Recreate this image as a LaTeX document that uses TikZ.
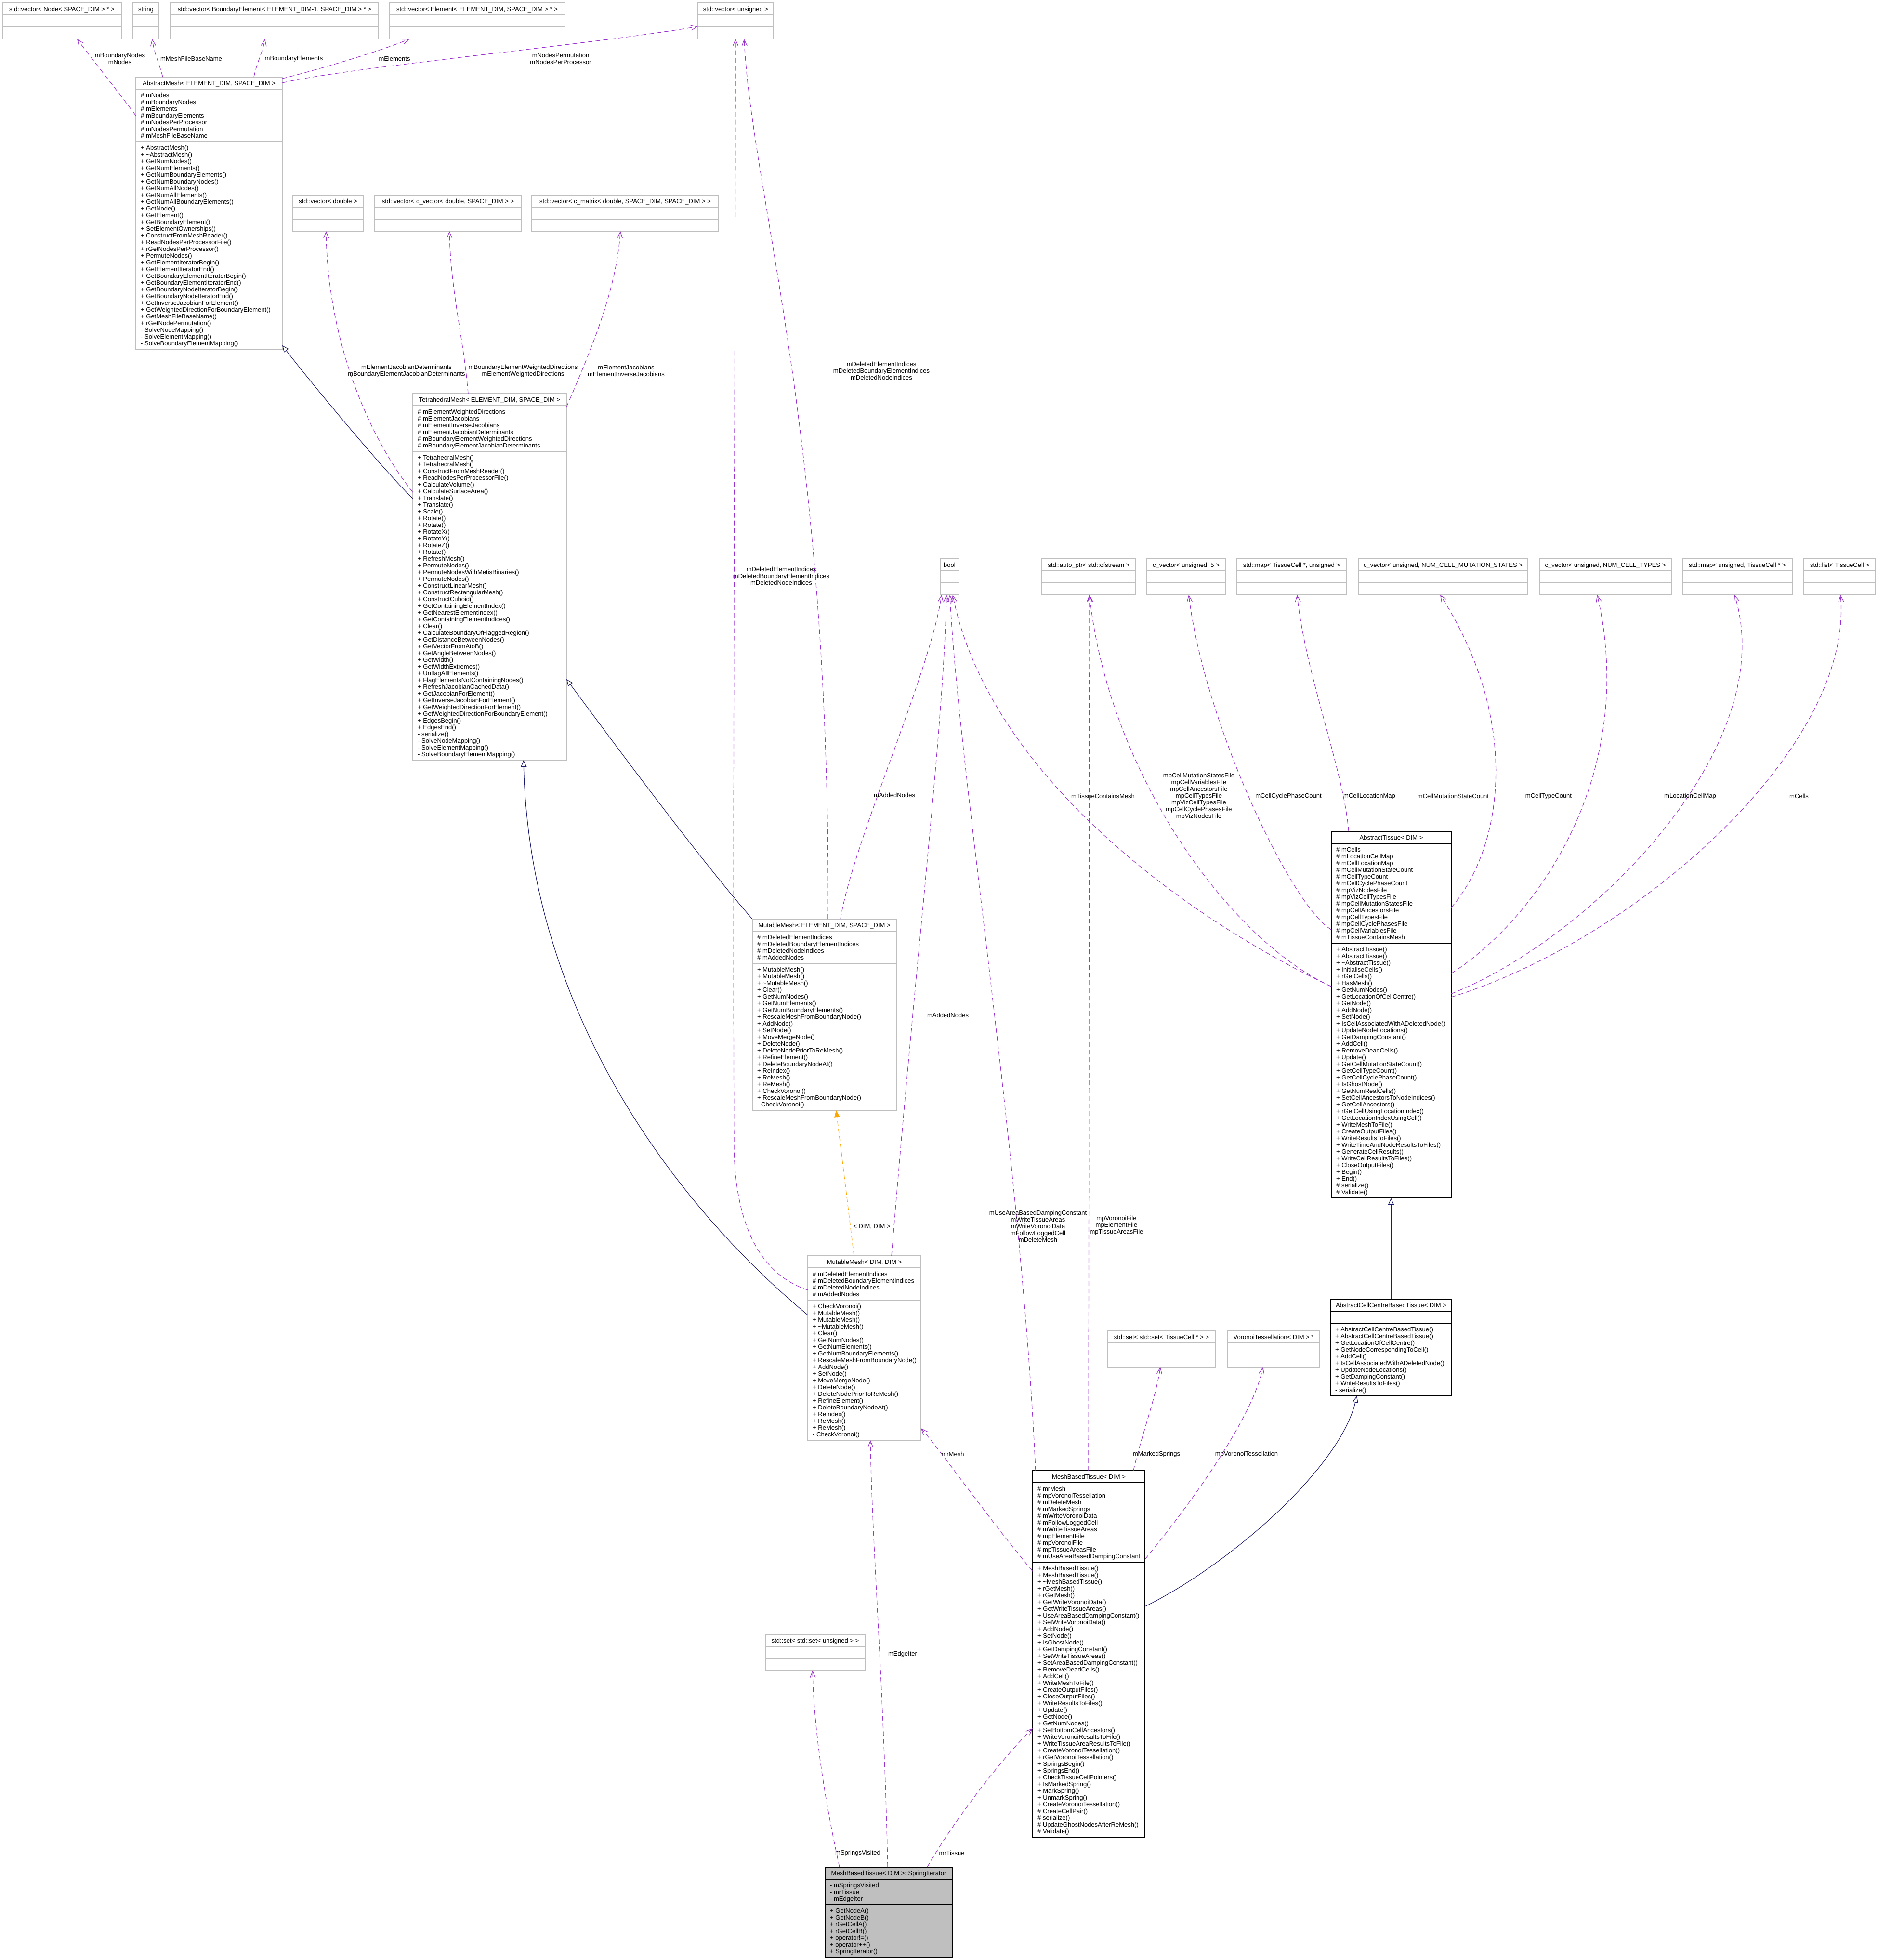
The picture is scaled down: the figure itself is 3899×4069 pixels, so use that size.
\documentclass[tikz,border=0pt]{standalone}
\usepackage{fontspec}
\setmainfont{Liberation Sans}
\usetikzlibrary{arrows.meta}
\definecolor{usecol}{HTML}{9A32CD}
\definecolor{inhcol}{HTML}{191970}
\definecolor{tplcol}{HTML}{FFA500}
\definecolor{grayborder}{HTML}{BFBFBF}
\definecolor{sifill}{HTML}{BFBFBF}
\tikzset{
  gbox/.style={draw=grayborder, fill=white, line width=1.5pt},
  gboxsep/.style={draw=grayborder, line width=1.5pt},
  bbox/.style={draw=black, fill=white, line width=1.5pt},
  bboxsep/.style={draw=black, line width=1.5pt},
  sbox/.style={draw=black, fill=sifill, line width=1.5pt},
  sboxsep/.style={draw=black, line width=1.5pt},
  use/.style={draw=usecol, line width=1.2pt, dash pattern=on 10pt off 6pt,
    -{Straight Barb[length=13pt,width=11pt,line width=1.2pt]}},
  inh/.style={draw=inhcol, line width=1.2pt,
    -{Triangle[open,length=14pt,width=12pt,fill=white,line width=1.2pt]}},
  tpl/.style={draw=tplcol, line width=1.2pt, dash pattern=on 10pt off 6pt,
    -{Triangle[length=14pt,width=11pt]}},
  lbl/.style={align=center},
}
\newcommand\umlbox[8]{%
  \pgfmathsetmacro\ubA{ifthenelse(#5==0,25,#5*14+11)}%
  \pgfmathsetmacro\ubM{ifthenelse(#6==0,25,#6*14+11)}%
  \pgfmathsetmacro\ubH{25+\ubA+\ubM}%
  \pgfmathsetmacro\ubYh{#3+25}%
  \pgfmathsetmacro\ubYa{#3+25+\ubA}%
  \pgfmathsetmacro\ubXr{#2+#4}%
  \pgfmathsetmacro\ubXc{#2+#4/2}%
  \pgfmathsetmacro\ubXt{#2+10}%
  \node[#7, anchor=north west, minimum width=#4pt, minimum height=\ubH pt, inner sep=0pt, outer sep=0pt] (#1) at (#2,#3) {};
  \draw[#7sep] (#2,\ubYh) -- (\ubXr,\ubYh) (#2,\ubYa) -- (\ubXr,\ubYa);
  \node[anchor=base] (#1-t) at (\ubXc,#3+17) {#8};
  \coordinate (#1-a) at (\ubXt,\ubYh+17);
  \coordinate (#1-m) at (\ubXt,\ubYa+17);
}
\newcommand\umllines[3]{%
  \foreach \ulT [count=\ulI from 0] in {#3}{\node[anchor=base west] (#1-#2\ulI) at ([yshift=-\ulI*14pt]#1-#2) {\ulT};}%
}
\begin{document}
\begin{tikzpicture}[x=1pt,y=-1pt, every node/.style={font=\fontsize{13}{14}\selectfont, inner sep=0pt}]
\fill[white] (0,0) rectangle (3899,4069);
\useasboundingbox (0,0) rectangle (3899,4069);

% ---------- top row ----------
\umlbox{B1}{5}{6}{247}{0}{0}{gbox}{std::vector< Node< SPACE\_DIM > * >}
\umlbox{B2}{276}{6}{54}{0}{0}{gbox}{string}
\umlbox{B3}{354}{6}{432}{0}{0}{gbox}{std::vector< BoundaryElement< ELEMENT\_DIM-1, SPACE\_DIM > * >}
\umlbox{B4}{808}{6}{365}{0}{0}{gbox}{std::vector< Element< ELEMENT\_DIM, SPACE\_DIM > * >}
\umlbox{B5}{1449}{6}{157}{0}{0}{gbox}{std::vector< unsigned >}

% ---------- AbstractMesh ----------
\umlbox{AM}{282}{160}{304}{7}{30}{gbox}{AbstractMesh< ELEMENT\_DIM, SPACE\_DIM >}
\umllines{AM}{a}{\# mNodes, \# mBoundaryNodes, \# mElements, \# mBoundaryElements, \# mNodesPerProcessor, \# mNodesPermutation, \# mMeshFileBaseName}
\umllines{AM}{m}{+ AbstractMesh(), + \textasciitilde AbstractMesh(), + GetNumNodes(), + GetNumElements(), + GetNumBoundaryElements(), + GetNumBoundaryNodes(), + GetNumAllNodes(), + GetNumAllElements(), + GetNumAllBoundaryElements(), + GetNode(), + GetElement(), + GetBoundaryElement(), + SetElementOwnerships(), + ConstructFromMeshReader(), + ReadNodesPerProcessorFile(), + rGetNodesPerProcessor(), + PermuteNodes(), + GetElementIteratorBegin(), + GetElementIteratorEnd(), + GetBoundaryElementIteratorBegin(), + GetBoundaryElementIteratorEnd(), + GetBoundaryNodeIteratorBegin(), + GetBoundaryNodeIteratorEnd(), + GetInverseJacobianForElement(), + GetWeightedDirectionForBoundaryElement(), + GetMeshFileBaseName(), + rGetNodePermutation(), - SolveNodeMapping(), - SolveElementMapping(), - SolveBoundaryElementMapping()}

% ---------- middle row ----------
\umlbox{V1}{608}{405}{146}{0}{0}{gbox}{std::vector< double >}
\umlbox{V2}{778}{405}{304}{0}{0}{gbox}{std::vector< c\_vector< double, SPACE\_DIM > >}
\umlbox{V3}{1104}{405}{388}{0}{0}{gbox}{std::vector< c\_matrix< double, SPACE\_DIM, SPACE\_DIM > >}

% ---------- TetrahedralMesh ----------
\umlbox{TM}{857}{817}{319}{6}{45}{gbox}{TetrahedralMesh< ELEMENT\_DIM, SPACE\_DIM >}
\umllines{TM}{a}{\# mElementWeightedDirections, \# mElementJacobians, \# mElementInverseJacobians, \# mElementJacobianDeterminants, \# mBoundaryElementWeightedDirections, \# mBoundaryElementJacobianDeterminants}
\umllines{TM}{m}{+ TetrahedralMesh(), + TetrahedralMesh(), + ConstructFromMeshReader(), + ReadNodesPerProcessorFile(), + CalculateVolume(), + CalculateSurfaceArea(), + Translate(), + Translate(), + Scale(), + Rotate(), + Rotate(), + RotateX(), + RotateY(), + RotateZ(), + Rotate(), + RefreshMesh(), + PermuteNodes(), + PermuteNodesWithMetisBinaries(), + PermuteNodes(), + ConstructLinearMesh(), + ConstructRectangularMesh(), + ConstructCuboid(), + GetContainingElementIndex(), + GetNearestElementIndex(), + GetContainingElementIndices(), + Clear(), + CalculateBoundaryOfFlaggedRegion(), + GetDistanceBetweenNodes(), + GetVectorFromAtoB(), + GetAngleBetweenNodes(), + GetWidth(), + GetWidthExtremes(), + UnflagAllElements(), + FlagElementsNotContainingNodes(), + RefreshJacobianCachedData(), + GetJacobianForElement(), + GetInverseJacobianForElement(), + GetWeightedDirectionForElement(), + GetWeightedDirectionForBoundaryElement(), + EdgesBegin(), + EdgesEnd(), - serialize(), - SolveNodeMapping(), - SolveElementMapping(), - SolveBoundaryElementMapping()}

% ---------- right row ----------
\umlbox{bool}{1952}{1160}{39}{0}{0}{gbox}{bool}
\umlbox{AP}{2163}{1160}{195}{0}{0}{gbox}{std::auto\_ptr< std::ofstream >}
\umlbox{CV5}{2381}{1160}{163}{0}{0}{gbox}{c\_vector< unsigned, 5 >}
\umlbox{MTU}{2568}{1160}{227}{0}{0}{gbox}{std::map< TissueCell *, unsigned >}
\umlbox{CVM}{2820}{1160}{352}{0}{0}{gbox}{c\_vector< unsigned, NUM\_CELL\_MUTATION\_STATES >}
\umlbox{CVT}{3196}{1160}{274}{0}{0}{gbox}{c\_vector< unsigned, NUM\_CELL\_TYPES >}
\umlbox{MUT}{3493}{1160}{228}{0}{0}{gbox}{std::map< unsigned, TissueCell * >}
\umlbox{LT}{3745}{1160}{149}{0}{0}{gbox}{std::list< TissueCell >}

% ---------- MutableMesh ----------
\umlbox{MM1}{1562}{1908}{299}{4}{21}{gbox}{MutableMesh< ELEMENT\_DIM, SPACE\_DIM >}
\umllines{MM1}{a}{\# mDeletedElementIndices, \# mDeletedBoundaryElementIndices, \# mDeletedNodeIndices, \# mAddedNodes}
\umllines{MM1}{m}{+ MutableMesh(), + MutableMesh(), + \textasciitilde MutableMesh(), + Clear(), + GetNumNodes(), + GetNumElements(), + GetNumBoundaryElements(), + RescaleMeshFromBoundaryNode(), + AddNode(), + SetNode(), + MoveMergeNode(), + DeleteNode(), + DeleteNodePriorToReMesh(), + RefineElement(), + DeleteBoundaryNodeAt(), + ReIndex(), + ReMesh(), + ReMesh(), + CheckVoronoi(), + RescaleMeshFromBoundaryNode(), - CheckVoronoi()}

\umlbox{MM2}{1677}{2607}{235}{4}{20}{gbox}{MutableMesh< DIM, DIM >}
\umllines{MM2}{a}{\# mDeletedElementIndices, \# mDeletedBoundaryElementIndices, \# mDeletedNodeIndices, \# mAddedNodes}
\umllines{MM2}{m}{+ CheckVoronoi(), + MutableMesh(), + MutableMesh(), + \textasciitilde MutableMesh(), + Clear(), + GetNumNodes(), + GetNumElements(), + GetNumBoundaryElements(), + RescaleMeshFromBoundaryNode(), + AddNode(), + SetNode(), + MoveMergeNode(), + DeleteNode(), + DeleteNodePriorToReMesh(), + RefineElement(), + DeleteBoundaryNodeAt(), + ReIndex(), + ReMesh(), + ReMesh(), - CheckVoronoi()}

% ---------- AbstractTissue ----------
\umlbox{AT}{2764}{1726}{249}{14}{37}{bbox}{AbstractTissue< DIM >}
\umllines{AT}{a}{\# mCells, \# mLocationCellMap, \# mCellLocationMap, \# mCellMutationStateCount, \# mCellTypeCount, \# mCellCyclePhaseCount, \# mpVizNodesFile, \# mpVizCellTypesFile, \# mpCellMutationStatesFile, \# mpCellAncestorsFile, \# mpCellTypesFile, \# mpCellCyclePhasesFile, \# mpCellVariablesFile, \# mTissueContainsMesh}
\umllines{AT}{m}{+ AbstractTissue(), + AbstractTissue(), + \textasciitilde AbstractTissue(), + InitialiseCells(), + rGetCells(), + HasMesh(), + GetNumNodes(), + GetLocationOfCellCentre(), + GetNode(), + AddNode(), + SetNode(), + IsCellAssociatedWithADeletedNode(), + UpdateNodeLocations(), + GetDampingConstant(), + AddCell(), + RemoveDeadCells(), + Update(), + GetCellMutationStateCount(), + GetCellTypeCount(), + GetCellCyclePhaseCount(), + IsGhostNode(), + GetNumRealCells(), + SetCellAncestorsToNodeIndices(), + GetCellAncestors(), + rGetCellUsingLocationIndex(), + GetLocationIndexUsingCell(), + WriteMeshToFile(), + CreateOutputFiles(), + WriteResultsToFiles(), + WriteTimeAndNodeResultsToFiles(), + GenerateCellResults(), + WriteCellResultsToFiles(), + CloseOutputFiles(), + Begin(), + End(), \# serialize(), \# Validate()}

\umlbox{ACC}{2762}{2697}{252}{0}{10}{bbox}{AbstractCellCentreBasedTissue< DIM >}
\umllines{ACC}{m}{+ AbstractCellCentreBasedTissue(), + AbstractCellCentreBasedTissue(), + GetLocationOfCellCentre(), + GetNodeCorrespondingToCell(), + AddCell(), + IsCellAssociatedWithADeletedNode(), + UpdateNodeLocations(), + GetDampingConstant(), + WriteResultsToFiles(), - serialize()}

\umlbox{SST}{2300}{2763}{223}{0}{0}{gbox}{std::set< std::set< TissueCell * > >}
\umlbox{VT}{2549}{2763}{190}{0}{0}{gbox}{VoronoiTessellation< DIM > *}

% ---------- MeshBasedTissue ----------
\umlbox{MBT}{2144}{3053}{233}{11}{40}{bbox}{MeshBasedTissue< DIM >}
\umllines{MBT}{a}{\# mrMesh, \# mpVoronoiTessellation, \# mDeleteMesh, \# mMarkedSprings, \# mWriteVoronoiData, \# mFollowLoggedCell, \# mWriteTissueAreas, \# mpElementFile, \# mpVoronoiFile, \# mpTissueAreasFile, \# mUseAreaBasedDampingConstant}
\umllines{MBT}{m}{+ MeshBasedTissue(), + MeshBasedTissue(), + \textasciitilde MeshBasedTissue(), + rGetMesh(), + rGetMesh(), + GetWriteVoronoiData(), + GetWriteTissueAreas(), + UseAreaBasedDampingConstant(), + SetWriteVoronoiData(), + AddNode(), + SetNode(), + IsGhostNode(), + GetDampingConstant(), + SetWriteTissueAreas(), + SetAreaBasedDampingConstant(), + RemoveDeadCells(), + AddCell(), + WriteMeshToFile(), + CreateOutputFiles(), + CloseOutputFiles(), + WriteResultsToFiles(), + Update(), + GetNode(), + GetNumNodes(), + SetBottomCellAncestors(), + WriteVoronoiResultsToFile(), + WriteTissueAreaResultsToFile(), + CreateVoronoiTessellation(), + rGetVoronoiTessellation(), + SpringsBegin(), + SpringsEnd(), + CheckTissueCellPointers(), + IsMarkedSpring(), + MarkSpring(), + UnmarkSpring(), + CreateVoronoiTessellation(), \# CreateCellPair(), \# serialize(), \# UpdateGhostNodesAfterReMesh(), \# Validate()}

\umlbox{SSU}{1589}{3393}{207}{0}{0}{gbox}{std::set< std::set< unsigned > >}

\umlbox{SI}{1713}{3876}{264}{3}{7}{sbox}{MeshBasedTissue< DIM >::SpringIterator}
\umllines{SI}{a}{- mSpringsVisited, - mrTissue, - mEdgeIter}
\umllines{SI}{m}{+ GetNodeA(), + GetNodeB(), + rGetCellA(), + rGetCellB(), + operator!=(), + operator++(), + SpringIterator()}

% ---------- connectors ----------
\draw[use] ([yshift=-80pt]AM.north west) .. controls (245,190) and (185,115) .. ([xshift=155pt]B1.south west);
\draw[use] ([xshift=56pt]AM.north west) .. controls (330,130) and (320,110) .. ([xshift=40pt]B2.south west);
\draw[use] ([xshift=245pt]AM.north west) .. controls (533,130) and (545,110) .. ([xshift=196pt]B3.south west);
\draw[use] ([yshift=-3pt]AM.north east) .. controls (640,150) and (780,110) .. ([xshift=42pt]B4.south west);
\draw[use] ([yshift=-12pt]AM.north east) .. controls (720,140) and (1250,90) .. ([yshift=-49pt]B5.north west);
\draw[use] ([yshift=-71pt]MM2.north west) .. controls (1590,2650) and (1526,2560) .. (1524,2380) .. controls (1521,1600) and (1527,600) .. ([xshift=78pt]B5.south west);
\draw[use] ([xshift=157pt]MM1.north west) .. controls (1725,900) and (1560,400) .. ([xshift=96pt]B5.south west);
\draw[use] ([yshift=-205pt]TM.north west) .. controls (760,900) and (680,700) .. ([xshift=69pt]V1.south west);
\draw[use] ([xshift=115pt]TM.north west) .. controls (962,700) and (935,600) .. ([xshift=155pt]V2.south west);
\draw[use] ([yshift=-28pt]TM.north east) .. controls (1230,720) and (1280,600) .. ([xshift=184pt]V3.south west);
\draw[inh] ([yshift=-218pt]TM.north west) .. controls (800,980) and (650,800) .. ([yshift=8pt]AM.south east);
\draw[inh] (MM1.north west) .. controls (1450,1780) and (1280,1550) .. ([yshift=-593pt]TM.north east);
\draw[inh] ([yshift=-123pt]MM2.north west) .. controls (1400,2500) and (1100,2100) .. ([xshift=230pt]TM.south west);
\draw[tpl] ([xshift=96pt]MM2.north west) -- ([xshift=174pt]MM1.south west);
\draw[use] ([xshift=183pt]MM1.north west) .. controls (1770,1750) and (1930,1400) .. ([xshift=3pt]bool.south west);
\draw[use] ([xshift=174pt]MM2.north west) .. controls (1900,2000) and (1960,1500) .. ([xshift=13pt]bool.south west);
\draw[use] ([xshift=6pt]MBT.north west) .. controls (2120,2400) and (1990,1600) .. ([xshift=20pt]bool.south west);
\draw[use] ([yshift=-322pt]AT.north west) .. controls (2450,1900) and (2050,1600) .. ([xshift=26pt]bool.south west);
\draw[use] ([yshift=-322pt]AT.north west) .. controls (2550,1950) and (2300,1600) .. ([xshift=99pt]AP.south west);
\draw[use] ([xshift=116pt]MBT.north west) -- ([xshift=99pt]AP.south west);
\draw[use] ([yshift=-204pt]AT.north west) .. controls (2680,1880) and (2500,1500) .. ([xshift=87pt]CV5.south west);
\draw[use] ([xshift=36pt]AT.north west) .. controls (2790,1600) and (2710,1400) .. ([xshift=125pt]MTU.south west);
\draw[use] ([yshift=-158pt]AT.north east) .. controls (3120,1760) and (3160,1500) .. ([xshift=170pt]CVM.south west);
\draw[use] ([yshift=-295pt]AT.north east) .. controls (3200,1900) and (3400,1600) .. ([xshift=120pt]CVT.south west);
\draw[use] ([yshift=-337pt]AT.north east) .. controls (3300,1950) and (3700,1550) .. ([xshift=108pt]MUT.south west);
\draw[use] ([yshift=-344pt]AT.north east) .. controls (3400,1950) and (3850,1550) .. ([xshift=76pt]LT.south west);
\draw[inh] ([xshift=126pt]ACC.north west) -- ([xshift=124pt]AT.south west);
\draw[inh] ([yshift=-282pt]MBT.north east) .. controls (2550,3250) and (2780,3050) .. ([xshift=55pt]ACC.south west);
\draw[use] ([xshift=209pt]MBT.north west) .. controls (2370,2980) and (2400,2900) .. ([xshift=109pt]SST.south west);
\draw[use] ([yshift=-184pt]MBT.north east) .. controls (2450,3150) and (2600,2950) .. ([xshift=73pt]VT.south west);
\draw[use] ([yshift=-209pt]MBT.north west) .. controls (2050,3150) and (1960,3020) .. ([yshift=25pt]MM2.south east);
\draw[use] ([xshift=30pt]SI.north west) .. controls (1715,3750) and (1690,3600) .. ([xshift=98pt]SSU.south west);
\draw[use] ([xshift=130pt]SI.north west) .. controls (1835,3500) and (1810,3200) .. ([xshift=130pt]MM2.south west);
\draw[use] ([xshift=212pt]SI.north west) .. controls (1980,3780) and (2080,3650) .. ([yshift=-535pt]MBT.north west);

% ---------- connector labels ----------
\node[lbl] (L1) at (249,122) {mBoundaryNodes\\mNodes};
\node[lbl] (L2) at (397,122) {mMeshFileBaseName};
\node[lbl] (L3) at (610,122) {mBoundaryElements};
\node[lbl] (L4) at (819,122) {mElements};
\node[lbl] (L5) at (1164,122) {mNodesPermutation\\mNodesPerProcessor};
\node[lbl] (L6a) at (1622,1196) {mDeletedElementIndices\\mDeletedBoundaryElementIndices\\mDeletedNodeIndices};
\node[lbl] (L6b) at (1830,770) {mDeletedElementIndices\\mDeletedBoundaryElementIndices\\mDeletedNodeIndices};
\node[lbl] (L7) at (844,770) {mElementJacobianDeterminants\\mBoundaryElementJacobianDeterminants};
\node[lbl] (L8) at (1086,770) {mBoundaryElementWeightedDirections\\mElementWeightedDirections};
\node[lbl] (L9) at (1300,770) {mElementJacobians\\mElementInverseJacobians};
\node[lbl] (L13) at (1810,2547) {< DIM, DIM >};
\node[lbl] (L14) at (1857,1651) {mAddedNodes};
\node[lbl] (L15) at (1968,2108) {mAddedNodes};
\node[lbl] (L16) at (2155,2546) {mUseAreaBasedDampingConstant\\mWriteTissueAreas\\mWriteVoronoiData\\mFollowLoggedCell\\mDeleteMesh};
\node[lbl] (L17) at (2290,1653) {mTissueContainsMesh};
\node[lbl] (L18) at (2489,1653) {mpCellMutationStatesFile\\mpCellVariablesFile\\mpCellAncestorsFile\\mpCellTypesFile\\mpVizCellTypesFile\\mpCellCyclePhasesFile\\mpVizNodesFile};
\node[lbl] (L19) at (2318,2544) {mpVoronoiFile\\mpElementFile\\mpTissueAreasFile};
\node[lbl] (L20) at (2675,1653) {mCellCyclePhaseCount};
\node[lbl] (L21) at (2843,1653) {mCellLocationMap};
\node[lbl] (L22) at (3017,1653) {mCellMutationStateCount};
\node[lbl] (L23) at (3215,1653) {mCellTypeCount};
\node[lbl] (L24) at (3509,1653) {mLocationCellMap};
\node[lbl] (L25) at (3735,1653) {mCells};
\node[lbl] (L28) at (2401,3019) {mMarkedSprings};
\node[lbl] (L29) at (2588,3019) {mpVoronoiTessellation};
\node[lbl] (L30) at (1978,3019) {mrMesh};
\node[lbl] (L31) at (1781,3847) {mSpringsVisited};
\node[lbl] (L32) at (1874,3434) {mEdgeIter};
\node[lbl] (L33) at (1976,3847) {mrTissue};
\end{tikzpicture}
\end{document}
